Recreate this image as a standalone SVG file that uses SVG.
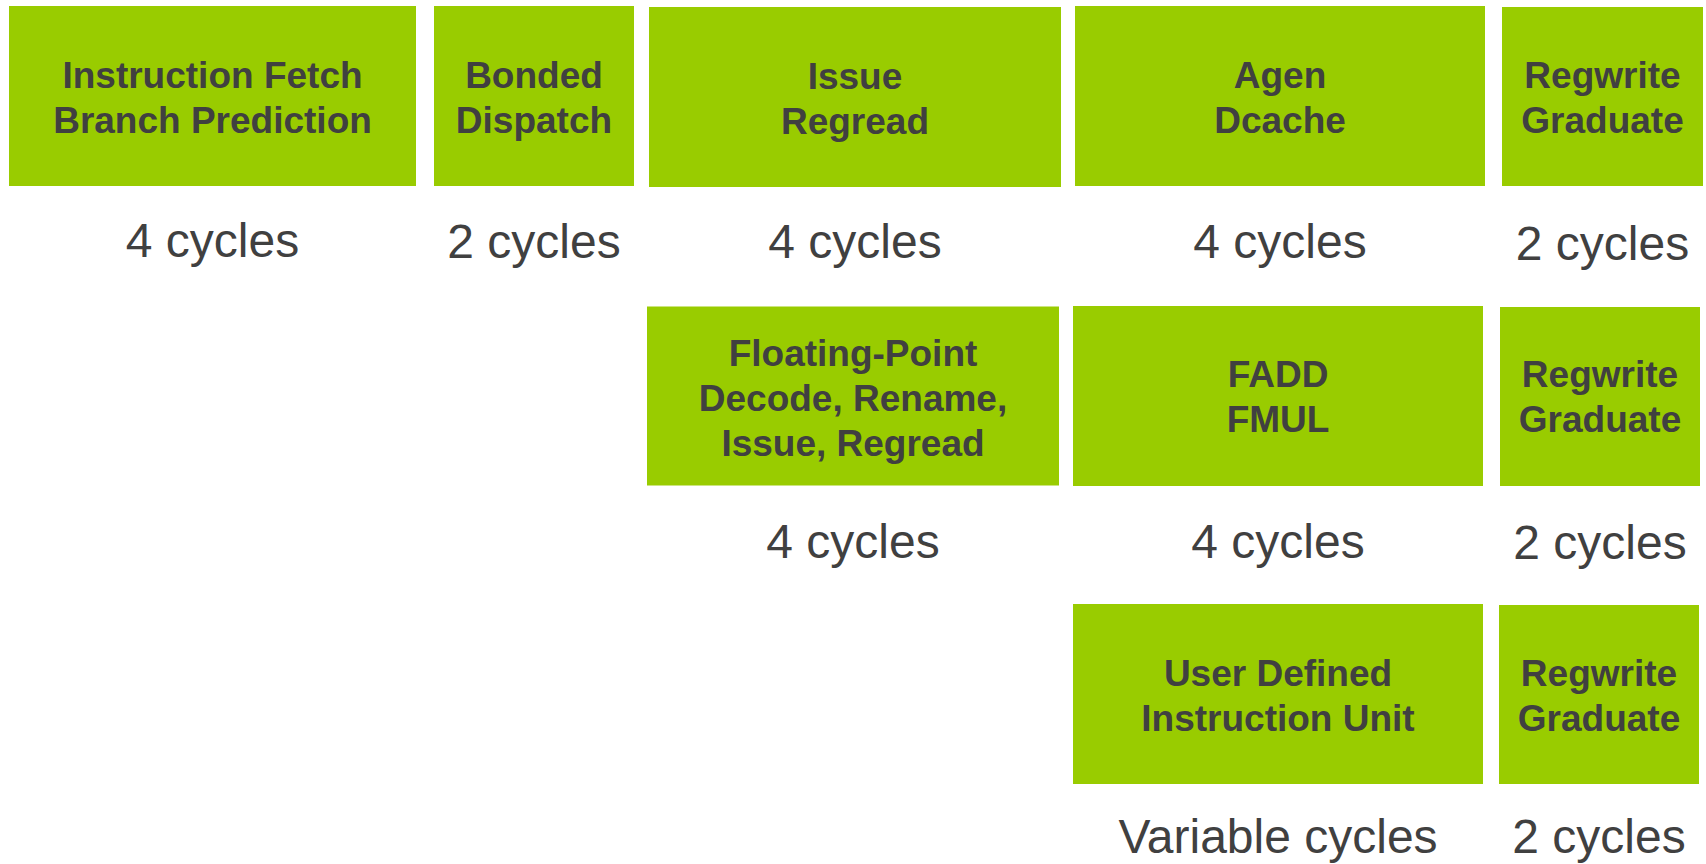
<svg xmlns="http://www.w3.org/2000/svg" width="1706" height="864" viewBox="0 0 1706 864">
  <style>
    .stage { fill: #99CC00; }
    .label { font-family: "Liberation Sans", Arial, sans-serif; font-weight: bold; font-size: 37px; fill: #404040; text-anchor: middle; }
    .cycles { font-family: "Liberation Sans", Arial, sans-serif; font-size: 48px; fill: #404040; text-anchor: middle; }
  </style>
  <rect width="1706" height="864" fill="#FFFFFF"/>

  <!-- Integer pipeline -->
  <g id="fetch">
    <rect class="stage" x="9" y="6" width="407" height="180"/>
    <text class="label" x="212.5" y="88">Instruction Fetch</text>
    <text class="label" x="212.5" y="132.5">Branch Prediction</text>
    <text class="cycles" x="212.5" y="257">4 cycles</text>
  </g>
  <g id="dispatch">
    <rect class="stage" x="434" y="6" width="200" height="180"/>
    <text class="label" x="534" y="88">Bonded</text>
    <text class="label" x="534" y="132.5">Dispatch</text>
    <text class="cycles" x="534" y="258">2 cycles</text>
  </g>
  <g id="issue">
    <rect class="stage" x="649" y="7" width="412" height="180"/>
    <text class="label" x="855" y="89">Issue</text>
    <text class="label" x="855" y="133.5">Regread</text>
    <text class="cycles" x="855" y="258">4 cycles</text>
  </g>
  <g id="agen">
    <rect class="stage" x="1075" y="6" width="410" height="180"/>
    <text class="label" x="1280" y="88">Agen</text>
    <text class="label" x="1280" y="132.5">Dcache</text>
    <text class="cycles" x="1280" y="258">4 cycles</text>
  </g>
  <g id="regwrite-int">
    <rect class="stage" x="1502" y="7" width="201" height="179"/>
    <text class="label" x="1602.5" y="88">Regwrite</text>
    <text class="label" x="1602.5" y="132.5">Graduate</text>
    <text class="cycles" x="1602.5" y="260">2 cycles</text>
  </g>

  <!-- Floating-point pipeline -->
  <g id="fp-decode">
    <rect class="stage" x="647" y="306.5" width="412" height="179"/>
    <text class="label" x="853" y="366">Floating-Point</text>
    <text class="label" x="853" y="411">Decode, Rename,</text>
    <text class="label" x="853" y="456">Issue, Regread</text>
    <text class="cycles" x="853" y="557.5">4 cycles</text>
  </g>
  <g id="fadd-fmul">
    <rect class="stage" x="1073" y="306" width="410" height="180"/>
    <text class="label" x="1278" y="387">FADD</text>
    <text class="label" x="1278" y="431.5">FMUL</text>
    <text class="cycles" x="1278" y="557.5">4 cycles</text>
  </g>
  <g id="regwrite-fp">
    <rect class="stage" x="1500" y="307" width="200" height="179"/>
    <text class="label" x="1600" y="387">Regwrite</text>
    <text class="label" x="1600" y="431.5">Graduate</text>
    <text class="cycles" x="1600" y="559">2 cycles</text>
  </g>

  <!-- User defined instruction pipeline -->
  <g id="udi">
    <rect class="stage" x="1073" y="604" width="410" height="180"/>
    <text class="label" x="1278" y="686">User Defined</text>
    <text class="label" x="1278" y="730.5">Instruction Unit</text>
    <text class="cycles" x="1278" y="853">Variable cycles</text>
  </g>
  <g id="regwrite-udi">
    <rect class="stage" x="1499" y="605" width="200" height="179"/>
    <text class="label" x="1599" y="686">Regwrite</text>
    <text class="label" x="1599" y="730.5">Graduate</text>
    <text class="cycles" x="1599" y="853">2 cycles</text>
  </g>
</svg>
